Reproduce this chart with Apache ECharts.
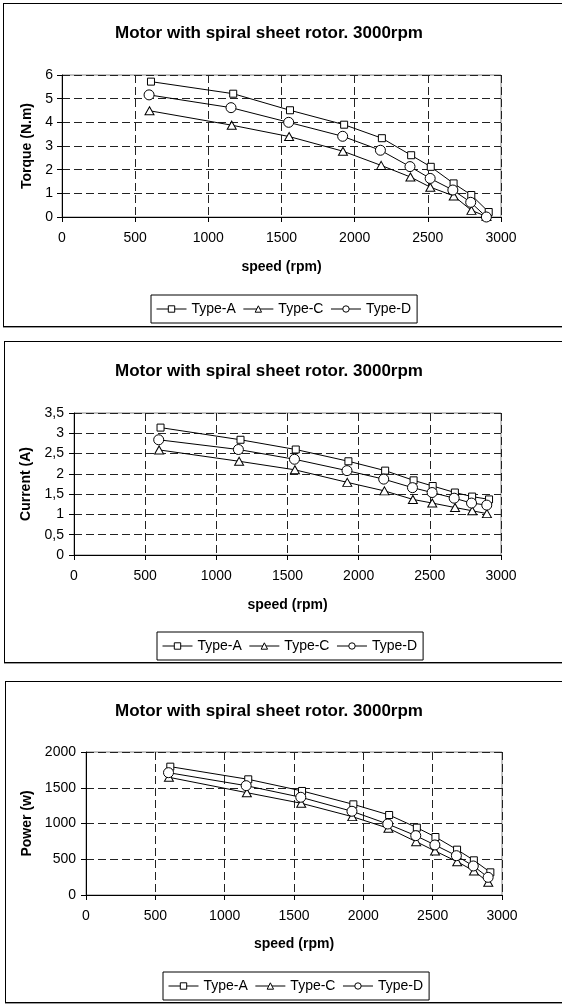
<!DOCTYPE html>
<html>
<head>
<meta charset="utf-8">
<script src="https://cdn.jsdelivr.net/npm/echarts@6/dist/echarts.min.js"></script>
<style>
  html, body { margin: 0; padding: 0; background: #fff; width: 562px; height: 1006px; overflow: hidden; position: relative; }
  .panel { position: absolute; border: 1px solid #000; box-shadow: 0 1px 0 #999; background: #fff; }
</style>
</head>
<body>
<div id="p1" class="panel" style="left:3px; top:3px; width:575px; height:322px;"></div>
<div id="p2" class="panel" style="left:4px; top:341px; width:575px; height:320px;"></div>
<div id="p3" class="panel" style="left:5px; top:681px; width:575px; height:320px;"></div>
<script>
// ---- data ----
const seriesNames = ['Type-A', 'Type-C', 'Type-D'];
const chartTitle = 'Motor with spiral sheet rotor. 3000rpm';
const xAxisTitle = 'speed (rpm)';

const speedA = [608, 1170, 1558, 1928, 2186, 2386, 2520, 2676, 2797, 2916];
const speedC = [598, 1160, 1552, 1920, 2181, 2381, 2517, 2677, 2798, 2901];
const speedD = [595, 1155, 1549, 1918, 2176, 2378, 2516, 2671, 2793, 2900];

const torqueA = [5.72, 5.21, 4.51, 3.90, 3.33, 2.61, 2.12, 1.42, 0.93, 0.21];
const torqueC = [4.49, 3.88, 3.40, 2.78, 2.18, 1.69, 1.26, 0.89, 0.28, 0.02];
const torqueD = [5.16, 4.62, 4.00, 3.41, 2.82, 2.13, 1.63, 1.14, 0.62, 0.00];

const currentA = [3.14, 2.84, 2.60, 2.31, 2.08, 1.84, 1.70, 1.54, 1.44, 1.37];
const currentC = [2.59, 2.31, 2.10, 1.79, 1.58, 1.37, 1.28, 1.17, 1.09, 1.02];
const currentD = [2.84, 2.60, 2.36, 2.08, 1.87, 1.66, 1.54, 1.40, 1.28, 1.23];

const powerA = [1795, 1618, 1455, 1268, 1119, 942, 811, 634, 485, 317];
const powerC = [1646, 1431, 1283, 1096, 933, 746, 616, 466, 336, 178];
const powerD = [1711, 1529, 1367, 1171, 993, 830, 700, 550, 406, 247];

const xTicks = { min: 0, max: 3000, interval: 500 };
const torqueTicks = { min: 0, max: 6, interval: 1 };
const currentTicks = { min: 0, max: 3.5, interval: 0.5 };
const powerTicks = { min: 0, max: 2000, interval: 500 };

// ---- rendering ----
const FONT = "'Liberation Sans', Arial, Helvetica, sans-serif";
const symbols = ['rect', 'triangle', 'circle'];
const symbolSizes = [7, [9, 8], 10];

function zip(xs, ys) { return xs.map((x, i) => [x, ys[i]]); }

function makeOption(cfg) {
  const speeds = [speedA, speedC, speedD];
  return {
    animation: false,
    textStyle: { fontFamily: FONT, color: '#000' },
    title: {
      text: chartTitle,
      left: cfg.titleX, top: 16, textAlign: 'center',
      textStyle: { fontFamily: FONT, fontSize: 17, fontWeight: 'bold', color: '#000' }
    },
    legend: {
      data: seriesNames,
      left: cfg.legendLeft, top: cfg.legendTop,
      orient: 'horizontal',
      padding: [7, 6, 7, 5],
      itemGap: 7, itemWidth: 30, itemHeight: 8,
      borderColor: '#000', borderWidth: 1,
      itemStyle: { borderWidth: 1 },
      lineStyle: { width: 1 },
      textStyle: { fontFamily: FONT, fontSize: 14, color: '#000' }
    },
    grid: {
      left: cfg.grid[0], top: cfg.grid[1], width: cfg.grid[2], height: cfg.grid[3],
      show: true, borderColor: '#888', borderWidth: 1, backgroundColor: '#fff'
    },
    xAxis: {
      type: 'value', min: xTicks.min, max: xTicks.max, interval: xTicks.interval,
      name: xAxisTitle, nameLocation: 'middle', nameGap: cfg.xNameGap,
      nameTextStyle: { fontFamily: FONT, fontSize: 14, fontWeight: 'bold', color: '#000' },
      axisLine: { show: true, onZero: false, lineStyle: { color: '#000', width: 1 } },
      axisTick: { show: true, inside: false, length: 5, lineStyle: { color: '#000' } },
      axisLabel: { fontFamily: FONT, fontSize: 14, color: '#000', margin: 14, formatter: v => String(v) },
      splitLine: { show: true, lineStyle: { color: '#222', type: [8, 4], width: 1 } }
    },
    yAxis: {
      type: 'value', min: cfg.yTicks.min, max: cfg.yTicks.max, interval: cfg.yTicks.interval,
      name: cfg.yName, nameLocation: 'middle', nameRotate: 90, nameGap: cfg.yNameGap,
      nameTextStyle: { fontFamily: FONT, fontSize: 14, fontWeight: 'bold', color: '#000' },
      axisLine: { show: true, onZero: false, lineStyle: { color: '#000', width: 1 } },
      axisTick: { show: true, inside: false, length: 5, lineStyle: { color: '#000' } },
      axisLabel: {
        fontFamily: FONT, fontSize: 14, color: '#000', margin: cfg.yLabelMargin,
        formatter: v => String(v).replace('.', ',')
      },
      splitLine: { show: true, lineStyle: { color: '#222', type: [8, 4], width: 1 } }
    },
    series: seriesNames.map((n, i) => ({
      name: n, type: 'line',
      data: zip(speeds[i], cfg.values[i]),
      symbol: symbols[i], symbolSize: symbolSizes[i], showSymbol: true,
      lineStyle: { color: '#000', width: 1 },
      itemStyle: { color: '#fff', borderColor: '#000', borderWidth: 1 },
      emphasis: { disabled: true }, z: 3 + i
    }))
  };
}

const configs = [
  { el: 'p1', titleX: 260, legendLeft: 147, legendTop: 291, grid: [58, 71, 439, 142],
    xNameGap: 43, yName: 'Torque (N.m)', yNameGap: 27, yLabelMargin: 9,
    yTicks: torqueTicks, values: [torqueA, torqueC, torqueD] },
  { el: 'p2', titleX: 259, legendLeft: 152, legendTop: 290, grid: [69, 71, 427, 142],
    xNameGap: 43, yName: 'Current (A)', yNameGap: 38, yLabelMargin: 10,
    yTicks: currentTicks, values: [currentA, currentC, currentD] },
  { el: 'p3', titleX: 258, legendLeft: 157, legendTop: 290, grid: [80, 70, 416, 143],
    xNameGap: 42, yName: 'Power (w)', yNameGap: 48, yLabelMargin: 10,
    yTicks: powerTicks, values: [powerA, powerC, powerD] }
];

configs.forEach(cfg => {
  const chart = echarts.init(document.getElementById(cfg.el), null, { renderer: 'canvas' });
  chart.setOption(makeOption(cfg));
});
</script>
</body>
</html>
